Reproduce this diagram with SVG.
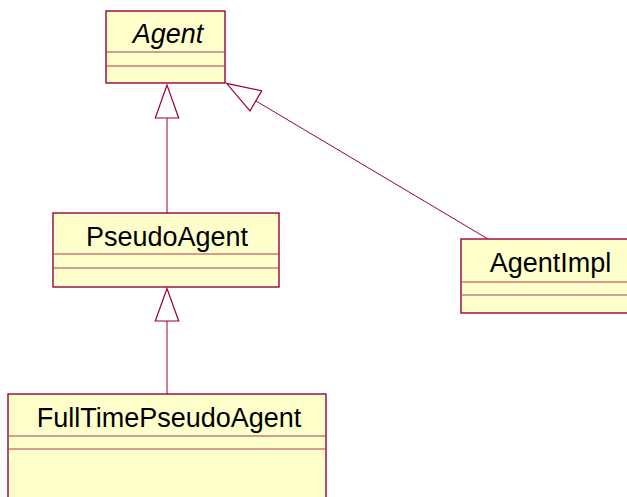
<svg xmlns="http://www.w3.org/2000/svg" width="627" height="497" viewBox="0 0 627 497">
  <style>
    .box { fill: #FFFFCC; stroke: #99003A; stroke-width: 1.4; }
    .sep { stroke: #B03858; stroke-width: 1.2; fill: none; }
    .name { font-family: "Liberation Sans", Arial, sans-serif; font-size: 27px; fill: #000; text-anchor: middle; }
    .edge { stroke: #99003A; stroke-width: 1; fill: none; }
    .tri { fill: #FFFFFF; stroke: #99003A; stroke-width: 1.2; stroke-linejoin: miter; }
  </style>
  <rect width="627" height="497" fill="#FFFFFF"/>

  <g id="connectors">
    <!-- PseudoAgent generalises Agent -->
    <line class="edge" x1="167" y1="118" x2="167" y2="213"/>
    <polygon class="tri" points="167,85 155.3,118 178.7,118"/>
    <!-- AgentImpl generalises Agent -->
    <line class="edge" x1="256" y1="101" x2="488" y2="239"/>
    <polygon class="tri" points="226.5,83.3 261.7,90.8 250,110.9"/>
    <!-- FullTimePseudoAgent generalises PseudoAgent -->
    <line class="edge" x1="167" y1="321" x2="167" y2="394"/>
    <polygon class="tri" points="167,288.5 155.3,321 178.7,321"/>
  </g>

  <g id="Agent">
    <rect class="box" x="106" y="11" width="119" height="72"/>
    <line class="sep" x1="106" y1="52" x2="225" y2="52"/>
    <line class="sep" x1="106" y1="66" x2="225" y2="66"/>
    <text class="name" x="168" y="43" font-style="italic" font-size="28">Agent</text>
  </g>

  <g id="PseudoAgent">
    <rect class="box" x="53" y="213" width="226" height="74"/>
    <line class="sep" x1="53" y1="254" x2="279" y2="254"/>
    <line class="sep" x1="53" y1="268" x2="279" y2="268"/>
    <text class="name" x="167" y="246">PseudoAgent</text>
  </g>

  <g id="AgentImpl">
    <rect class="box" x="461" y="239" width="180" height="74"/>
    <line class="sep" x1="461" y1="282" x2="641" y2="282"/>
    <line class="sep" x1="461" y1="295" x2="641" y2="295"/>
    <text class="name" x="550.5" y="272">AgentImpl</text>
  </g>

  <g id="FullTimePseudoAgent">
    <rect class="box" x="8" y="394" width="318" height="120"/>
    <line class="sep" x1="8" y1="436" x2="326" y2="436"/>
    <line class="sep" x1="8" y1="449" x2="326" y2="449"/>
    <text class="name" x="169" y="427">FullTimePseudoAgent</text>
  </g>
</svg>
